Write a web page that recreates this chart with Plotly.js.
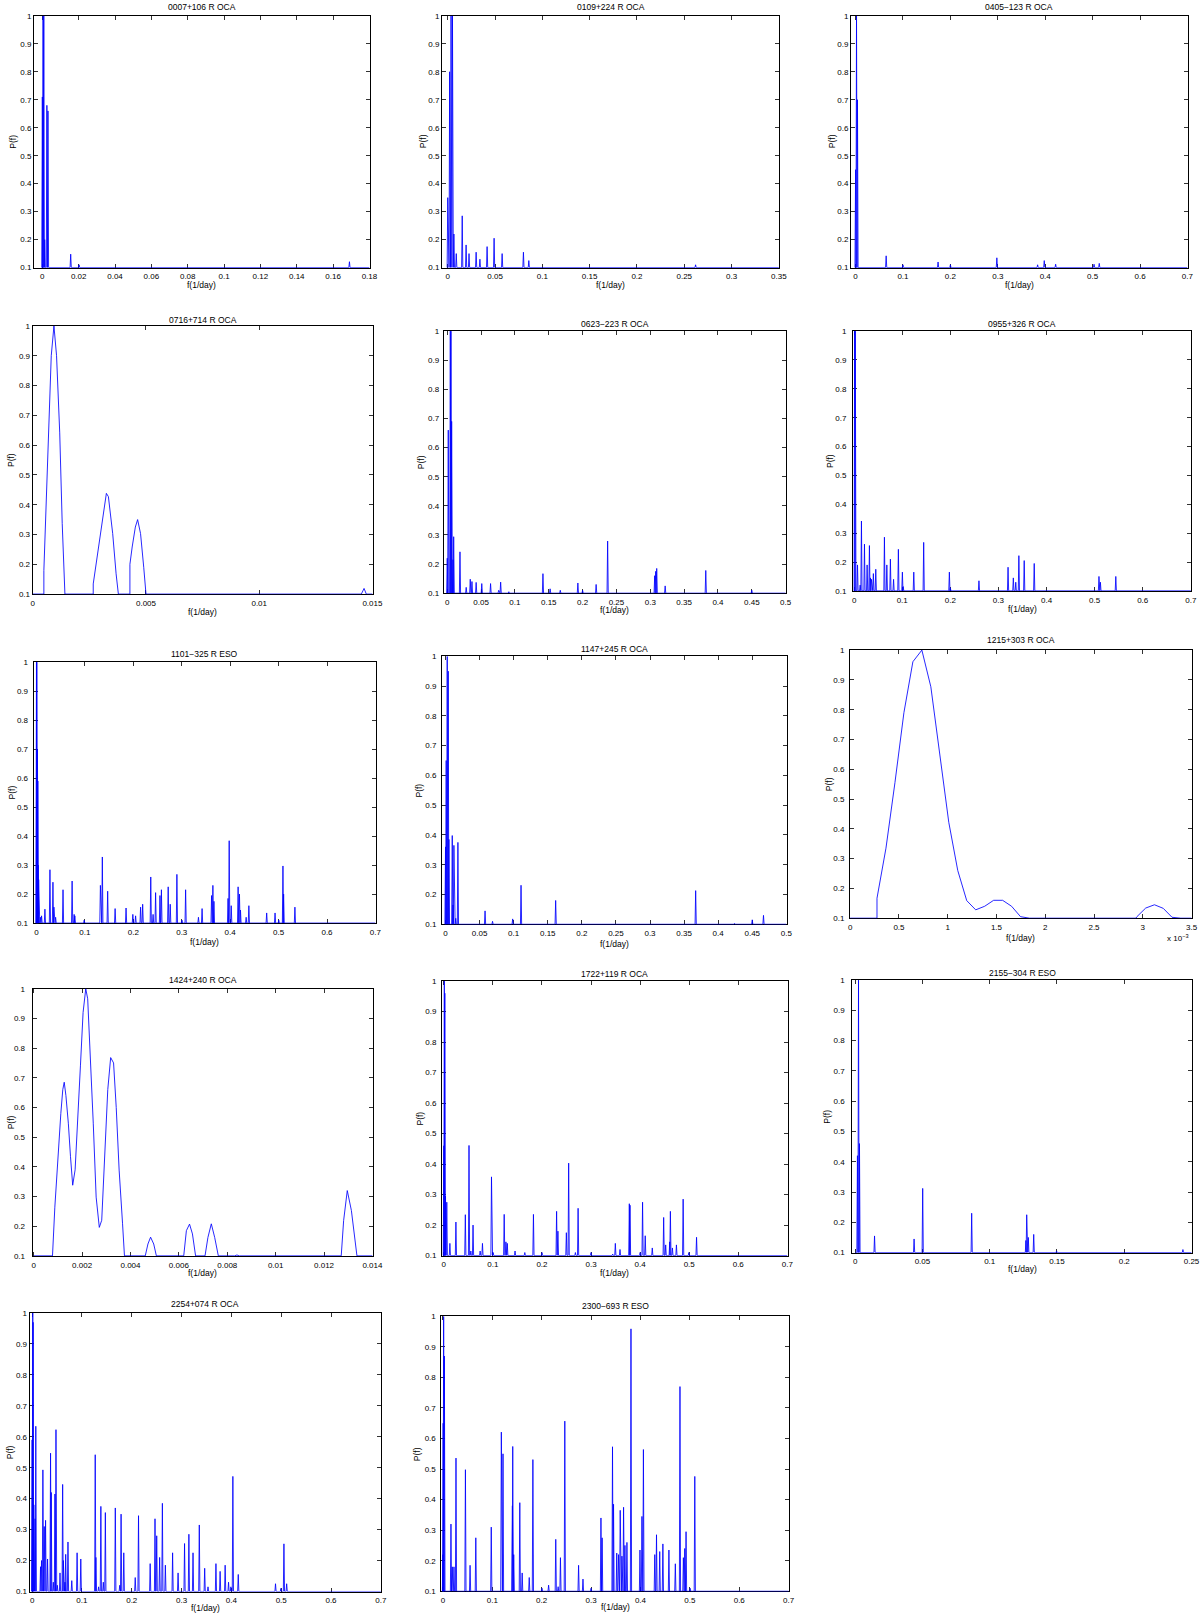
<!DOCTYPE html>
<html>
<head>
<meta charset="utf-8">
<script src="https://cdn.plot.ly/plotly-3.0.1.min.js"></script>
<style>
  body { margin: 0; background: #fff; }
  #chart { width: 1200px; height: 1614px; }
</style>
</head>
<body>
<div id="chart"></div>
<script>
// periodogram peaks [f (1/day), P(f)]; P below 0.1 sits on the floor
const pk0007 = [[0.0,0.71],[0.0004,1.0],[0.0008,1.0],[0.0013,0.2],[0.0025,0.68],[0.0031,0.66],
  [0.0156,0.148],[0.0202,0.11],[0.169,0.121]];
const pk0109 = [[0.0,0.35],[0.002,0.8],[0.0035,1.0],[0.005,1.0],[0.0065,0.22],[0.009,0.15],
  [0.0153,0.285],[0.0194,0.181],[0.0225,0.15],[0.030,0.155],[0.034,0.13],[0.0416,0.175],
  [0.049,0.205],[0.0575,0.15],[0.080,0.155],[0.0857,0.125],[0.262,0.11]];
const pk0405 = [[0.0,0.45],[0.002,1.0],[0.004,0.7],[0.0645,0.142],[0.0999,0.11],[0.174,0.12],
  [0.2,0.11],[0.298,0.135],[0.384,0.11],[0.398,0.125],[0.422,0.112],[0.503,0.112],[0.514,0.115]];
// smooth curve vertices [f, P]
const cv0716 = [[0,0.1],[0.00049,0.1],[0.00049,0.179],[0.000593,0.393],[0.000712,0.675],
  [0.000816,0.9],[0.000935,1.0],[0.00105,0.9],[0.00119,0.641],[0.0013,0.337],[0.00142,0.1],
  [0.00267,0.1],[0.00267,0.134],[0.00286,0.235],[0.00309,0.37],[0.00325,0.438],[0.00334,0.427],
  [0.00353,0.303],[0.00368,0.168],[0.00378,0.1],[0.00429,0.1],[0.00429,0.2],[0.00439,0.258],
  [0.00453,0.325],[0.00463,0.35],[0.00476,0.303],[0.0049,0.19],[0.005,0.1],[0.01451,0.1],
  [0.01463,0.119],[0.01473,0.1],[0.015,0.1]];
const pk0623 = [[0.0,0.22],[0.0015,0.66],[0.0045,1.0],[0.0055,1.0],[0.0065,0.69],[0.0085,0.215],
  [0.0095,0.294],[0.0188,0.242],[0.028,0.12],[0.034,0.148],[0.0365,0.14],[0.0427,0.137],
  [0.051,0.133],[0.064,0.133],[0.076,0.11],[0.0789,0.138],[0.091,0.105],[0.1414,0.167],
  [0.152,0.115],[0.167,0.11],[0.193,0.135],[0.2,0.11],[0.22,0.13],[0.237,0.279],[0.3065,0.16],
  [0.308,0.175],[0.3095,0.185],[0.322,0.125],[0.382,0.178],[0.45,0.11]];
const pk0955 = [[0.001,1.0],[0.0025,1.0],[0.007,0.19],[0.0125,0.12],[0.0152,0.342],[0.0215,0.262],
  [0.027,0.19],[0.0318,0.257],[0.034,0.145],[0.036,0.14],[0.040,0.16],[0.045,0.175],[0.063,0.286],
  [0.068,0.19],[0.0754,0.21],[0.082,0.14],[0.092,0.244],[0.1003,0.165],[0.102,0.115],[0.124,0.165],
  [0.1446,0.268],[0.198,0.165],[0.2,0.11],[0.2595,0.135],[0.320,0.182],[0.331,0.145],[0.336,0.13],
  [0.3425,0.222],[0.3536,0.205],[0.3744,0.195],[0.509,0.15],[0.512,0.13],[0.544,0.15]];
const pk1101 = [[0.0,1.0],[0.0007,1.0],[0.0012,0.52],[0.002,0.7],[0.0028,0.59],[0.0035,0.3],
  [0.0045,0.25],[0.008,0.12],[0.0105,0.125],[0.0174,0.148],[0.0278,0.284],[0.034,0.241],
  [0.036,0.155],[0.0395,0.12],[0.0548,0.215],[0.0736,0.245],[0.0778,0.13],[0.0792,0.125],
  [0.0985,0.11],[0.132,0.23],[0.136,0.328],[0.147,0.21],[0.1624,0.15],[0.185,0.152],[0.199,0.13],
  [0.2047,0.125],[0.215,0.155],[0.2193,0.165],[0.236,0.259],[0.2408,0.13],[0.246,0.205],
  [0.255,0.195],[0.258,0.215],[0.272,0.225],[0.2762,0.165],[0.290,0.268],[0.3005,0.11],
  [0.308,0.215],[0.3345,0.12],[0.342,0.15],[0.3616,0.195],[0.3643,0.23],[0.3665,0.175],
  [0.3956,0.185],[0.398,0.384],[0.4022,0.16],[0.4164,0.225],[0.4192,0.2],[0.4213,0.145],
  [0.433,0.12],[0.4386,0.16],[0.4754,0.135],[0.4927,0.135],[0.5004,0.11],[0.509,0.297],
  [0.5104,0.2],[0.5337,0.155]];
const pk1147 = [[0.0,0.36],[0.001,0.65],[0.0025,1.0],[0.004,0.95],[0.005,0.385],[0.0099,0.398],
  [0.011,0.165],[0.0123,0.365],[0.015,0.12],[0.0182,0.375],[0.058,0.145],[0.069,0.11],
  [0.0985,0.118],[0.1108,0.231],[0.1616,0.18],[0.367,0.213],[0.424,0.103],[0.45,0.115],[0.4665,0.13]];
// f in units of 1e-3 (1/day), as on that panel's axis
const cv1215 = [[0,0.1],[0.275,0.1],[0.275,0.167],[0.367,0.335],[0.459,0.555],[0.551,0.79],
  [0.643,0.961],[0.735,1.0],[0.827,0.877],[0.919,0.64],[1.011,0.422],[1.103,0.26],[1.195,0.159],
  [1.287,0.128],[1.379,0.14],[1.471,0.16],[1.563,0.16],[1.655,0.14],[1.747,0.105],[1.839,0.1],
  [2.93,0.1],[2.94,0.105],[3.03,0.134],[3.12,0.145],[3.21,0.133],[3.30,0.103],[3.39,0.1],[3.5,0.1]];
const cv1424 = [[0,0.1],[0.000775,0.1],[0.000872,0.264],[0.00101,0.457],[0.00112,0.58],
  [0.0012,0.66],[0.00126,0.685],[0.00133,0.64],[0.00143,0.547],[0.00152,0.434],[0.00161,0.338],
  [0.00171,0.39],[0.00182,0.547],[0.00193,0.74],[0.00204,0.92],[0.00215,1.0],[0.00223,0.966],
  [0.00234,0.774],[0.00246,0.547],[0.00258,0.298],[0.00271,0.196],[0.00281,0.22],[0.00292,0.434],
  [0.00306,0.66],[0.00318,0.768],[0.0033,0.75],[0.00341,0.6],[0.00353,0.389],[0.00367,0.21],
  [0.00375,0.1],[0.00461,0.1],[0.00472,0.14],[0.00483,0.163],[0.00496,0.14],[0.00507,0.1],
  [0.0062,0.1],[0.00631,0.185],[0.00644,0.207],[0.00656,0.174],[0.00669,0.1],[0.00708,0.1],
  [0.0072,0.162],[0.00734,0.208],[0.00748,0.162],[0.00763,0.1],[0.0083,0.1],[0.0084,0.103],
  [0.0085,0.1],[0.01271,0.1],[0.01281,0.219],[0.01296,0.32],[0.01313,0.253],[0.01336,0.1],[0.014,0.1]];
const pk1722 = [[0.0,0.46],[0.001,1.0],[0.002,0.96],[0.0034,0.295],[0.006,0.275],[0.0123,0.14],
  [0.0246,0.21],[0.0438,0.234],[0.0513,0.461],[0.055,0.115],[0.0595,0.2],[0.074,0.115],
  [0.0787,0.14],[0.0971,0.358],[0.1005,0.11],[0.123,0.235],[0.1265,0.145],[0.1293,0.14],
  [0.1451,0.115],[0.165,0.11],[0.1826,0.235],[0.2,0.11],[0.2298,0.245],[0.2325,0.18],
  [0.2497,0.175],[0.2544,0.403],[0.2681,0.11],[0.2736,0.255],[0.3,0.11],[0.3441,0.105],
  [0.3495,0.14],[0.359,0.12],[0.378,0.27],[0.3794,0.265],[0.4,0.11],[0.405,0.275],[0.4104,0.165],
  [0.4248,0.125],[0.448,0.225],[0.4521,0.135],[0.4603,0.145],[0.4617,0.245],[0.4658,0.125],
  [0.474,0.135],[0.4877,0.285],[0.4993,0.11],[0.515,0.16]];
const pk2155 = [[0.0017,0.42],[0.0025,1.0],[0.0032,0.46],[0.0144,0.155],[0.0438,0.145],
  [0.0502,0.312],[0.0866,0.23],[0.1269,0.14],[0.1275,0.225],[0.1287,0.15],[0.1327,0.16],
  [0.1497,0.105],[0.2436,0.11]];
const pk2254 = [[0.0,0.59],[0.0013,1.0],[0.002,0.97],[0.0034,0.38],[0.006,0.335],[0.0074,0.634],
  [0.0169,0.18],[0.0189,0.2],[0.0216,0.493],[0.0243,0.31],[0.027,0.33],[0.031,0.205],[0.037,0.547],
  [0.0384,0.42],[0.0425,0.13],[0.0458,0.415],[0.0479,0.623],[0.0506,0.12],[0.056,0.16],
  [0.0613,0.446],[0.0627,0.2],[0.066,0.13],[0.0674,0.22],[0.072,0.26],[0.0796,0.135],
  [0.0903,0.225],[0.0977,0.205],[0.1267,0.542],[0.128,0.21],[0.1335,0.115],[0.138,0.375],
  [0.1429,0.13],[0.147,0.355],[0.167,0.37],[0.1759,0.12],[0.1786,0.35],[0.184,0.225],[0.207,0.145],
  [0.2136,0.345],[0.237,0.19],[0.2467,0.335],[0.2501,0.28],[0.256,0.21],[0.2615,0.385],
  [0.2675,0.185],[0.282,0.225],[0.293,0.16],[0.306,0.255],[0.3147,0.285],[0.323,0.225],
  [0.3356,0.315],[0.3464,0.175],[0.3531,0.115],[0.369,0.19],[0.3774,0.165],[0.3875,0.185],
  [0.3943,0.13],[0.399,0.115],[0.403,0.472],[0.4138,0.155],[0.4886,0.125],[0.4994,0.11],
  [0.5055,0.254],[0.511,0.125]];
const pk2300 = [[0.0,0.22],[0.0005,0.65],[0.0015,1.0],[0.003,0.87],[0.0163,0.32],[0.019,0.18],
  [0.0224,0.18],[0.0265,0.536],[0.0456,0.498],[0.055,0.185],[0.0666,0.275],[0.0979,0.31],
  [0.1183,0.621],[0.1217,0.55],[0.1407,0.38],[0.1414,0.574],[0.1434,0.22],[0.1557,0.39],
  [0.1605,0.16],[0.1748,0.145],[0.1822,0.531],[0.2006,0.11],[0.214,0.12],[0.2285,0.27],
  [0.2333,0.115],[0.238,0.21],[0.2468,0.657],[0.2747,0.185],[0.2836,0.14],[0.3,0.11],[0.32,0.34],
  [0.3224,0.275],[0.3434,0.573],[0.3455,0.385],[0.352,0.225],[0.3557,0.22],[0.359,0.365],
  [0.3625,0.215],[0.3658,0.375],[0.3686,0.25],[0.3726,0.26],[0.3808,0.959],[0.399,0.235],
  [0.403,0.345],[0.406,0.564],[0.429,0.22],[0.4325,0.285],[0.439,0.23],[0.4454,0.255],
  [0.4576,0.235],[0.4706,0.19],[0.48,0.77],[0.4869,0.21],[0.4897,0.24],[0.4923,0.295],
  [0.5005,0.11],[0.51,0.476]];

// panel layout: box = [left, right, top, bottom] px, ty = title centre px,
// ys = y tick label standoff, yl / xl = axis label offsets from the box, px
const panels = [
  {name: '0007+106 R OCA', pk: pk0007, box: [34, 369.6, 15.7, 267.7], xr: [-0.0045, 0.18], dt: 0.02, ty: 7, ys: 0, yl: 21, xl: 17},
  {name: '0109+224 R OCA', pk: pk0109, box: [442, 779, 15.7, 267.7], xr: [-0.0059, 0.35], dt: 0.05, ty: 7, ys: 0, yl: 19.5, xl: 17},
  {name: '0405\u2212123 R OCA', pk: pk0405, box: [851, 1187.6, 15.7, 267.7], xr: [-0.0093, 0.7], dt: 0.1, ty: 7, ys: 0, yl: 19.5, xl: 17},
  {name: '0716+714 R OCA', cv: cv0716, box: [32.6, 372.6, 325.8, 594.2], xr: [0, 0.015], dt: 0.005, ty: 320.5, ys: 0, yl: 21.6, xl: 18},
  {name: '0623\u2212223 R OCA', pk: pk0623, box: [443.7, 785.8, 331, 593.3], xr: [-0.005, 0.5], dt: 0.05, ty: 324, ys: 2, yl: 22.7, xl: 16.5},
  {name: '0955+326 R OCA', pk: pk0955, box: [853, 1191, 331, 591], xr: [-0.002, 0.7], dt: 0.1, ty: 324, ys: 4, yl: 23, xl: 18},
  {name: '1101\u2212325 R ESO', pk: pk1101, box: [33.6, 375.6, 662, 923.2], xr: [-0.0056, 0.7], dt: 0.1, ty: 653.5, ys: 3, yl: 21.8, xl: 19},
  {name: '1147+245 R OCA', pk: pk1147, box: [442, 786.5, 656.2, 924.4], xr: [-0.0049, 0.5], dt: 0.05, ty: 649, ys: 3, yl: 22.8, xl: 20},
  {name: '1215+303 R OCA', cv: cv1215, box: [850, 1191.7, 650, 918.3], xr: [0, 3.5], dt: 0.5, ty: 640, ys: 3, yl: 21, xl: 20, exp: true},
  {name: '1424+240 R OCA', cv: cv1424, box: [32.6, 372.6, 988.6, 1256], xr: [-0.00004, 0.014], dt: 0.002, ty: 979.5, ys: 5, yl: 21.6, xl: 16.5},
  {name: '1722+119 R OCA', pk: pk1722, box: [442, 787.5, 980.9, 1255.7], xr: [-0.0034, 0.7], dt: 0.1, ty: 973.5, ys: 3, yl: 21.8, xl: 17},
  {name: '2155\u2212304 R ESO', pk: pk2155, box: [852.3, 1191.7, 980, 1252.7], xr: [-0.002, 0.25], dt: 0.05, ty: 973, ys: 5, yl: 25, xl: 16},
  {name: '2254+074 R OCA', pk: pk2254, box: [29.6, 381, 1312.9, 1591.6], xr: [-0.0047, 0.7], dt: 0.1, ty: 1303.5, ys: 0, yl: 19.6, xl: 16},
  {name: '2300\u2212693 R ESO', pk: pk2300, box: [441.4, 788.8, 1316.2, 1591.4], xr: [-0.0027, 0.7], dt: 0.1, ty: 1306, ys: 3, yl: 25, xl: 15.5}
];

const W = 1200, H = 1614;
const BLUE = '#0000ff';
const FONT = 'Liberation Sans, Arial, Helvetica, sans-serif';

// turn a peak list into a line: floor -> peak -> floor, spikes about one pixel wide
function spikeLine(pk, xr, px) {
  const hw = 0.6 * (xr[1] - xr[0]) / px;
  const s = pk.slice().sort((a, b) => a[0] - b[0]);
  const x = [Math.max(xr[0], 0)], y = [0.1];
  s.forEach(d => {
    x.push(d[0] - hw, d[0], d[0] + hw);
    y.push(0.1, d[1], 0.1);
  });
  x.push(xr[1]);
  y.push(0.1);
  return {x, y};
}

// tick positions and MATLAB-like labels for one axis
function tickSet(lo, hi, step) {
  const vals = [], text = [];
  const n0 = Math.ceil(lo / step - 1e-6), n1 = Math.floor(hi / step + 1e-6);
  for (let n = n0; n <= n1; n++) {
    const v = Math.round(n * step * 1e6) / 1e6 + 0;
    vals.push(v);
    text.push(String(v));
  }
  return {vals, text};
}

const data = [];
const layout = {
  width: W, height: H,
  margin: {l: 0, r: 0, t: 0, b: 0},
  paper_bgcolor: '#fff', plot_bgcolor: '#fff',
  showlegend: false,
  font: {family: FONT, size: 8, color: '#000'},
  annotations: []
};

panels.forEach((pn, i) => {
  const k = i === 0 ? '' : String(i + 1);
  const [l, r, t, b] = pn.box;
  const xr = pn.xr;
  const span = xr[1] - xr[0];
  const rng = [xr[0] - span * 5e-4, xr[1] + span * 5e-4];

  let line;
  if (pn.cv) line = {x: pn.cv.map(d => d[0]), y: pn.cv.map(d => d[1])};
  else line = spikeLine(pn.pk, xr, r - l);

  data.push({
    type: 'scatter', mode: 'lines', x: line.x, y: line.y,
    xaxis: 'x' + k, yaxis: 'y' + k,
    line: {color: BLUE, width: 0.85}, hoverinfo: 'skip'
  });

  const common = {
    ticks: 'inside', ticklen: 4, tickwidth: 0.8, tickcolor: '#000',
    showline: true, mirror: 'ticks', linecolor: '#000', linewidth: 1,
    showgrid: false, zeroline: false, layer: 'below traces',
    ticklabeloverflow: 'allow',
    tickfont: {family: FONT, size: 8, color: '#000'}
  };
  const xt = tickSet(Math.max(xr[0], 0), xr[1], pn.dt);
  const yt = tickSet(0.1, 1, 0.1);
  layout['xaxis' + k] = Object.assign({}, common, {
    domain: [l / W, r / W], range: rng, anchor: 'y' + k, ticklabelstandoff: 1,
    tickmode: 'array', tickvals: xt.vals, ticktext: xt.text
  });
  layout['yaxis' + k] = Object.assign({}, common, {
    domain: [1 - b / H, 1 - t / H], range: [0.0996, 1.0004], anchor: 'x' + k,
    ticklabelstandoff: pn.ys,
    tickmode: 'array', tickvals: yt.vals, ticktext: yt.text
  });

  const cx = (l + r) / 2 / W;
  layout.annotations.push(
    {text: pn.name, xref: 'paper', yref: 'paper', x: cx, y: 1 - pn.ty / H,
     xanchor: 'center', yanchor: 'middle', showarrow: false, font: {size: 8.5}},
    {text: 'f(1/day)', xref: 'paper', yref: 'paper', x: cx, y: 1 - (b + pn.xl) / H,
     xanchor: 'center', yanchor: 'middle', showarrow: false, font: {size: 8.5}},
    {text: 'P(f)', xref: 'paper', yref: 'paper', x: (l - pn.yl) / W, y: 1 - (t + b) / 2 / H,
     xanchor: 'center', yanchor: 'middle', textangle: -90, showarrow: false, font: {size: 8.5}}
  );
  if (pn.exp) {
    layout.annotations.push({text: 'x 10<sup>\u22123</sup>', xref: 'paper', yref: 'paper',
      x: (r - 14) / W, y: 1 - (b + 20) / H, xanchor: 'center', yanchor: 'middle',
      showarrow: false, font: {size: 8}});
  }
});

Plotly.newPlot('chart', data, layout, {staticPlot: true, displayModeBar: false});
</script>
</body>
</html>
